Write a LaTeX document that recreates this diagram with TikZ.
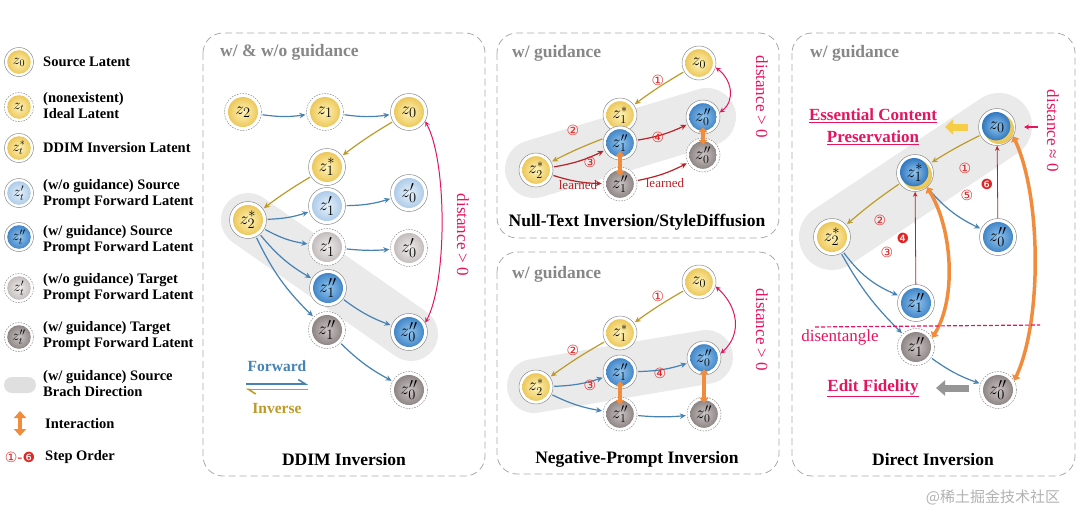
\documentclass[tikz,border=0pt]{standalone}
\usepackage{fontspec}
\setmainfont{Liberation Serif}
\newfontfamily\djv{DejaVu Sans}
\newfontfamily\cjk{Noto Sans CJK SC}
\usetikzlibrary{arrows.meta}
\definecolor{fwc}{RGB}{70,130,180}
\definecolor{invc}{RGB}{190,155,40}
\definecolor{redc}{RGB}{185,35,40}
\definecolor{pinkc}{RGB}{230,20,95}
\definecolor{orgc}{RGB}{240,140,60}
\definecolor{numc}{RGB}{225,35,35}
\definecolor{panelc}{RGB}{170,170,170}
\definecolor{headc}{RGB}{135,135,135}
\definecolor{shadec}{RGB}{234,234,234}
\definecolor{ringc}{RGB}{140,140,140}
\definecolor{yin}{RGB}{255,244,185}
\definecolor{yout}{RGB}{232,190,70}
\definecolor{lbin}{RGB}{232,242,251}
\definecolor{lbout}{RGB}{160,195,228}
\definecolor{bin}{RGB}{145,198,240}
\definecolor{bout}{RGB}{50,120,190}
\definecolor{lgin}{RGB}{242,238,238}
\definecolor{lgout}{RGB}{185,178,178}
\definecolor{dgin}{RGB}{205,198,198}
\definecolor{dgout}{RGB}{128,118,118}
\definecolor{ylwarr}{RGB}{245,205,70}
\definecolor{gryarr}{RGB}{150,150,150}
\begin{document}
\begin{tikzpicture}[x=1pt,y=-1pt,
 lat/.style={circle, inner sep=0pt, draw=ringc, line width=0.5pt, fill=white, text=black},
 big/.style={minimum size=37pt, font=\fontsize{19}{19}\selectfont, /utils/exec={\def\ballr{15pt}}},
 mid/.style={minimum size=34pt, font=\fontsize{17.5}{17.5}\selectfont, /utils/exec={\def\ballr{13.8pt}}},
 sml/.style={minimum size=29pt, font=\fontsize{14.5}{14.5}\selectfont, /utils/exec={\def\ballr{11.8pt}}},
 ball/.style 2 args={path picture={\shade[inner color=#1, outer color=#2] (path picture bounding box.center) circle[radius=\ballr];}},
 dring/.style={dash pattern=on 1.6pt off 1.2pt},
 src/.style={lat, ball={yin}{yout}},
 ideal/.style={lat, dring, ball={yin}{yout}},
 sfw/.style={lat, ball={lbin}{lbout}},
 sgd/.style={lat, ball={bin}{bout}},
 tfw/.style={lat, dring, ball={lgin}{lgout}},
 tgd/.style={lat, dring, ball={dgin}{dgout}},
 mix/.style={lat, path picture={\shade[inner color=yin, outer color=yout] ([shift={(2pt,-2pt)}]path picture bounding box.center) circle[radius=\ballr]; \shade[inner color=bin, outer color=bout] ([shift={(-0.8pt,0.8pt)}]path picture bounding box.center) circle[radius=\ballr-0.8pt];}},
 fw/.style={draw=fwc, line width=1.2pt, -{Stealth[length=6pt,width=5.5pt]}, shorten >=1pt, shorten <=1pt},
 inv/.style={fw, draw=invc},
 rd/.style={fw, draw=redc},
 thinr/.style={draw=redc, line width=0.8pt, -{Stealth[length=5pt,width=4.5pt]}},
 orng/.style={draw=orgc, line width=3.5pt, {Triangle[length=5pt,width=9pt]}-{Triangle[length=5pt,width=9pt]}},
 dist/.style={draw=pinkc, line width=1pt, {Stealth[length=5pt,width=5pt]}-{Stealth[length=5pt,width=5pt]}},
 num/.style={text=numc, font=\djv\fontsize{14}{14}\selectfont, inner sep=0pt},
 head/.style={text=headc, font=\bfseries\fontsize{17.5}{17.5}\selectfont, anchor=west, inner sep=0pt},
 ttl/.style={font=\bfseries\fontsize{17.5}{17.5}\selectfont, inner sep=0pt},
 leg/.style={font=\bfseries\fontsize{14.5}{16}\selectfont, anchor=west, align=left, inner sep=0pt},
 dtext/.style={text=pinkc, font=\fontsize{17}{17}\selectfont, rotate=-90, inner sep=0pt},
 pinkb/.style={text=pinkc, font=\bfseries\fontsize{17}{17}\selectfont, inner sep=0pt},
 panel/.style={draw=panelc, line width=0.8pt, dash pattern=on 7pt off 4pt, rounded corners=20pt},
 capsule/.style={draw=shadec, line cap=round}
]
\useasboundingbox (0,0) rectangle (1080,512);
\fill[white] (0,0) rectangle (1080,512);
% panels
\draw[panel] (203,33) rectangle (485,476);
\draw[panel] (497,33) rectangle (779,238);
\draw[panel] (497,252) rectangle (779,474);
\draw[panel] (792,33) rectangle (1075,476);
% shaded source-branch direction
\draw[capsule, line width=54pt] (248,220) -- (411,334);
\draw[capsule, line width=58pt] (534,169) -- (707,117);
\draw[capsule, line width=54pt] (534,386) -- (706,357);
\draw[capsule, line width=66pt] (832,237) -- (999,126);
% headers and titles
\node[head] at (220,52) {w/ \& w/o guidance};
\node[head] at (512,53) {w/ guidance};
\node[head] at (512,274) {w/ guidance};
\node[head] at (810,53) {w/ guidance};
\node[ttl] at (344,460) {DDIM Inversion};
\node[ttl] at (637,222) {Null-Text Inversion/StyleDiffusion};
\node[ttl] at (637,459) {Negative-Prompt Inversion};
\node[ttl] at (933,460) {Direct Inversion};

% ---------------- legend
\node[src,sml] (l0) at (19,62) {$z_0$};
\node[ideal,sml] (l1) at (19,107) {$z_t$};
\node[src,sml] (l2) at (19,148) {$z_t^*$};
\node[sfw,sml] (l3) at (19,193) {$z_t'$};
\node[sgd,sml] (l4) at (19,237) {$z_t''$};
\node[tfw,sml] (l5) at (19,288) {$z_t'$};
\node[tgd,sml] (l6) at (19,337) {$z_t''$};
\node[leg] at (43,62) {Source Latent};
\node[leg] at (43,105.5) {(nonexistent)\\Ideal Latent};
\node[leg] at (43,148) {DDIM Inversion Latent};
\node[leg] at (43,194) {(w/o guidance) Source\\Prompt Forward Latent};
\node[leg] at (43,240) {(w/ guidance) Source\\Prompt Forward Latent};
\node[leg] at (43,288.5) {(w/o guidance) Target\\Prompt Forward Latent};
\node[leg] at (43,336) {(w/ guidance) Target\\Prompt Forward Latent};
\node[leg] at (43,384) {(w/ guidance) Source\\Brach Direction};
\node[leg] at (45,424) {Interaction};
\node[leg] at (45,457) {Step Order};
\fill[shadec!90!gray, rounded corners=8pt] (4,377) rectangle (36,393);
\coordinate (la) at (20,411);
\coordinate (lb) at (20,436);
\draw[draw=orgc, line width=4.5pt, {Triangle[length=7pt,width=12pt]}-{Triangle[length=7pt,width=12pt]}] (la) -- (lb);
\node[text=numc, font=\djv\fontsize{14}{14}\selectfont, inner sep=0pt] at (20,457) {①-❻};

% ---------------- DDIM panel
\node[ideal,big] (a2) at (243,112) {$z_2$};
\node[ideal,big] (a1) at (325,112) {$z_1$};
\node[src,big] (a0) at (409,112) {$z_0$};
\node[src,big] (a1s) at (327,167) {$z_1^*$};
\node[src,big] (a2s) at (248,220) {$z_2^*$};
\node[sfw,big] (a1p) at (327,206) {$z_1'$};
\node[sfw,big] (a0p) at (409,193) {$z_0'$};
\node[tfw,big] (a1pg) at (327,247) {$z_1'$};
\node[tfw,big] (a0pg) at (409,248) {$z_0'$};
\node[sgd,big] (a1b) at (328,288) {$z_1''$};
\node[sgd,big] (a0b) at (409,332) {$z_0''$};
\node[tgd,big] (a1g) at (327,330) {$z_1''$};
\node[tgd,big] (a0g) at (409,390) {$z_0''$};
\draw[fw] (a2) to[bend right=8] (a1);
\draw[fw] (a1) to[bend right=8] (a0);
\draw[inv] (a0) to[bend right=3] (a1s);
\draw[inv] (a1s) to[bend right=3] (a2s);
\draw[fw] (a2s) to[bend right=8] (a1p);
\draw[fw] (a1p) to[bend right=8] (a0p);
\draw[fw] (a2s) to[bend right=10] (a1pg);
\draw[fw] (a1pg) to[bend right=5] (a0pg);
\draw[fw] (a2s) to[bend right=10] (a1b);
\draw[fw] (a1b) to[bend right=8] (a0b);
\draw[fw] (a2s) to[bend right=10] (a1g);
\draw[fw] (a1g) to[bend right=8] (a0g);
\draw[dist] (a0.-30) .. controls +(22,40) and +(22,-40) .. (a0b.30);
\node[dtext] at (463,235) {distance > 0};
\node[text=fwc, font=\bfseries\fontsize{15.5}{15.5}\selectfont] at (277,366) {Forward};
\node[text=invc, font=\bfseries\fontsize{15.5}{15.5}\selectfont] at (277,408) {Inverse};
\coordinate (fa) at (246,384);
\coordinate (fb) at (308,384);
\coordinate (ia) at (308,389.5);
\coordinate (ib) at (246,389.5);
\draw[draw=fwc, line width=1.6pt, -{Straight Barb[left,length=7pt,width=9pt]}] (fa) -- (fb);
\draw[draw=invc, line width=1.6pt, -{Straight Barb[left,length=7pt,width=9pt]}] (ia) -- (ib);

% ---------------- Null-Text panel
\node[src,mid] (b0) at (699,63) {$z_0$};
\node[src,mid] (b1s) at (620,115) {$z_1^*$};
\node[sgd,mid] (b1b) at (620,143) {$z_1''$};
\node[sgd,mid] (b0b) at (703,117) {$z_0''$};
\node[tgd,mid] (b0g) at (703,155) {$z_0''$};
\node[tgd,mid] (b1g) at (620,184) {$z_1''$};
\node[src,mid] (b2s) at (536,170) {$z_2^*$};
\draw[inv] (b0) to[bend right=3] (b1s);
\draw[inv] (b1b.165) to[bend right=3] (b2s);
\draw[rd] (b2s) to[bend right=8] (b1b);
\draw[rd] (b2s) to[bend right=8] (b1g);
\draw[rd] (b1b) to[bend right=8] (b0b);
\draw[rd] (b1g) to[bend right=8] (b0g);
\draw[orng, shorten <=-9pt, shorten >=-9pt] (b1b) -- (b1g);
\draw[orng, shorten <=-7pt, shorten >=-7pt] (b0b) -- (b0g);
\draw[dist] (b0.-15) .. controls +(16,12) and +(16,-12) .. (b0b.15);
\node[dtext] at (762,97) {distance > 0};
\node[num] at (658,80) {①};
\node[num] at (573,130) {②};
\node[num] at (590,162) {③};
\node[num] at (658,137) {④};
\node[text=redc, font=\fontsize{13}{13}\selectfont, inner sep=0pt] at (578,185) {learned};
\node[text=redc, font=\fontsize{13}{13}\selectfont, inner sep=0pt] at (665,183) {learned};

% ---------------- Negative-Prompt panel
\node[src,mid] (c0) at (699,282) {$z_0$};
\node[src,mid] (c1s) at (620,333) {$z_1^*$};
\node[sgd,mid] (c1b) at (620,372) {$z_1''$};
\node[sgd,mid] (c0b) at (704,358) {$z_0''$};
\node[src,mid] (c2s) at (536,387) {$z_2^*$};
\node[tgd,mid] (c1g) at (620,414) {$z_1''$};
\node[tgd,mid] (c0g) at (704,414) {$z_0''$};
\draw[inv] (c0) to[bend right=3] (c1s);
\draw[inv] (c1s) to[bend right=3] (c2s);
\draw[fw] (c2s) to[bend right=8] (c1b);
\draw[fw] (c2s) to[bend right=8] (c1g);
\draw[fw] (c1b) to[bend right=8] (c0b);
\draw[fw] (c1g) to[bend right=5] (c0g);
\draw[orng, shorten <=-8pt, shorten >=-8pt] (c1b) -- (c1g);
\draw[orng, line width=4pt, shorten <=-6pt, shorten >=-6pt] (c0b) -- (c0g);
\draw[dist] (c0.-15) .. controls +(22,20) and +(22,-20) .. (c0b.15);
\node[dtext] at (762,330) {distance > 0};
\node[num] at (658,296) {①};
\node[num] at (573,350) {②};
\node[num] at (590,385) {③};
\node[num] at (660,373) {④};

% ---------------- Direct Inversion panel
\node[mix,big] (d0) at (997,127) {$z_0$};
\node[mix,big] (d1s) at (915,173) {$z_1^*$};
\node[src,big] (d2s) at (832,237) {$z_2^*$};
\node[sgd,big] (d0b) at (998,237) {$z_0''$};
\node[sgd,big] (d1b) at (916,303) {$z_1''$};
\node[tgd,big] (d1g) at (916,347) {$z_1''$};
\node[tgd,big] (d0g) at (998,390) {$z_0''$};
\draw[inv] (d0) to[bend right=3] (d1s);
\draw[inv] (d1s) to[bend right=3] (d2s);
\draw[fw] (d1s) to[bend right=12] (d0b);
\draw[fw] (d2s) to[bend right=15] (d1b);
\draw[fw] (d2s) to[bend right=8] (d1g);
\draw[fw] (d1g) to[bend right=8] (d0g);
\draw[thinr] (d1b) -- (d1s);
\draw[thinr] (d0b) -- (d0);
\draw[orng, line width=3.5pt] (d1s.-50) .. controls +(25,40) and +(25,-40) .. (d1g.30);
\draw[orng, line width=3.5pt] (d0.-30) .. controls +(28,60) and +(28,-60) .. (d0g.30);
\coordinate (ya) at (968,127);
\coordinate (yb) at (945,127);
\draw[draw=ylwarr, line width=7pt, -{Triangle[length=8pt,width=15pt]}] (ya) -- (yb);
\coordinate (ga) at (969,388);
\coordinate (gb) at (936,388);
\draw[draw=gryarr, line width=7pt, -{Triangle[length=9pt,width=15pt]}] (ga) -- (gb);
\coordinate (pa) at (1038,127);
\coordinate (pb) at (1024,127);
\draw[draw=pinkc, line width=1.2pt, -{Stealth[length=5pt,width=5pt]}] (pa) -- (pb);
\node[dtext] at (1053,131) {distance ≈ 0};
\coordinate (da) at (815,327);
\coordinate (db) at (1040,325);
\draw[draw=pinkc, line width=1.2pt, dash pattern=on 4pt off 2pt] (da) -- (db);
\node[text=pinkc, font=\fontsize{17}{17}\selectfont, inner sep=0pt] at (840,337) {disentangle};
\node[pinkb] at (873,116) {\underline{Essential Content}};
\node[pinkb] at (873,138) {\underline{Preservation}};
\node[pinkb] at (873,388) {\underline{Edit Fidelity}};
\node[num] at (965,168) {①};
\node[num] at (967,195) {⑤};
\node[num] at (987,184) {❻};
\node[num] at (880,220) {②};
\node[num] at (903,238) {❹};
\node[num] at (887,252) {③};
% watermark
\node[text=gray!60, font=\cjk\fontsize{15}{15}\selectfont, inner sep=0pt] at (993,497) {@稀土掘金技术社区};
\end{tikzpicture}
\end{document}
